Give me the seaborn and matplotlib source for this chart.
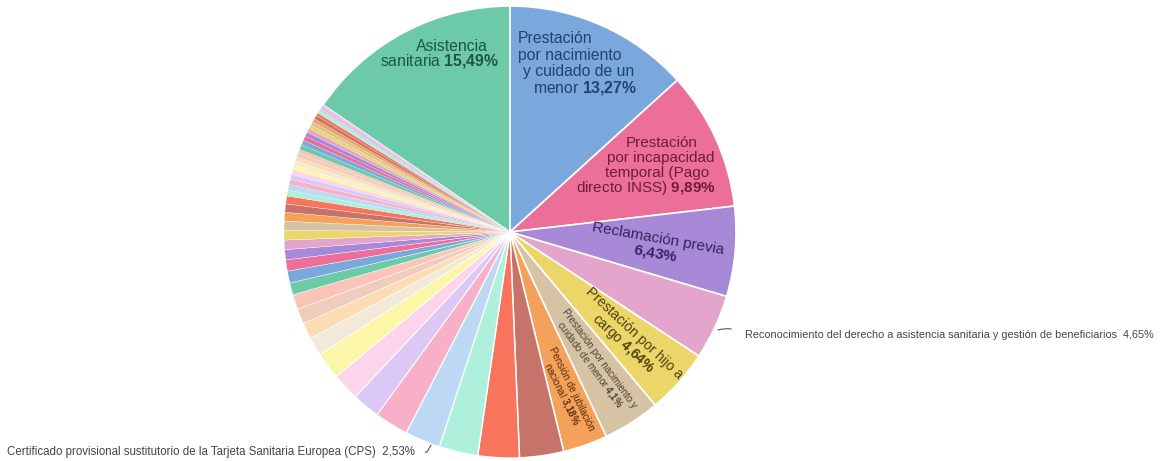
import matplotlib
matplotlib.use("Agg")
import matplotlib.pyplot as plt
import seaborn as sns

# Datos: porcentajes de trámites, en el orden del gráfico (sentido horario desde arriba)
tramites = [
    "Asistencia sanitaria",
    "Prestación por nacimiento y cuidado de un menor",
    "Prestación por incapacidad temporal (Pago directo INSS)",
    "Reclamación previa",
    "Reconocimiento del derecho a asistencia sanitaria y gestión de beneficiarios",
    "Prestación por hijo a cargo",
    "Prestación por nacimiento y cuidado de menor",
    "Pensión de jubilación nacional",
]
porcentajes = [15.49, 13.27, 9.89, 6.43, 4.65, 4.64, 4.10, 3.18]

# resto de trámites pequeños (sin etiqueta visible)
otros_nombres = ["", "", "", "Certificado provisional sustitutorio de la Tarjeta Sanitaria Europea (CPS)"] + [""] * 42
otros_porcentajes = [3.15, 2.95, 2.78, 2.53, 2.42, 1.98, 1.96, 1.94, 1.32, 1.16, 1.08, 1.06,
                     0.86, 0.85, 0.80, 0.72, 0.68, 0.68, 0.66, 0.62, 0.60, 0.56,
                     0.42, 0.40, 0.38, 0.36, 0.34, 0.33, 0.32, 0.30, 0.28, 0.27,
                     0.36, 0.34, 0.32, 0.30, 0.29, 0.28, 0.27, 0.25, 0.24, 0.22,
                     0.20, 0.18, 0.16, 0.14]

colores_base = ["#6ccaa9", "#7aa8dc", "#ec6f99", "#a889d8", "#e4a5cc",
                "#ecd669", "#d6c3a4", "#f4a25b", "#c6746a", "#f8745c",
                "#aef0dc", "#bcd8f2", "#f8b0c8", "#dcc8f4", "#fcd4ec",
                "#fcf6a8", "#f2ead8", "#fcdcb4", "#f0ccbc", "#fcc4b8"]

nombres = tramites + otros_nombres
valores = porcentajes + otros_porcentajes
colores = [colores_base[i % len(colores_base)] for i in range(len(valores))]

sns.set_theme(style="white")
plt.rcParams['font.family'] = ['Liberation Sans', 'DejaVu Sans']
plt.rcParams['mathtext.fontset'] = 'custom'
plt.rcParams['mathtext.rm'] = 'Liberation Sans'
plt.rcParams['mathtext.bf'] = 'Liberation Sans:bold'

W, H = 1164, 461
CX, CY, R = 510, 232, 226

fig = plt.figure(figsize=(W / 100, H / 100), dpi=100)
ax = fig.add_axes([(CX - R) / W, (H - CY - R) / H, 2 * R / W, 2 * R / H])

total = sum(valores)
cuñas, _ = ax.pie(valores, colors=colores, radius=1, counterclock=False,
                  startangle=90 + 360 * valores[0] / total,
                  wedgeprops=dict(edgecolor="white", linewidth=1.2))
# bordes finos en los sectores pequeños para que no tapen el centro
for cuña, v in zip(cuñas, valores):
    cuña.set_linewidth(min(1.2, 0.35 * v))
ax.set_xlim(-1, 1)
ax.set_ylim(-1, 1)
ax.set_aspect("equal")
ax.axis("off")


def px(x, y):
    # pixel de la imagen -> coordenadas del eje
    return (x - CX) / R, (CY - y) / R


def linea(x, y, s, color, size=11, rot=0, **kw):
    ax.text(*px(x, y), s, color=color, fontsize=size, rotation=rot,
            ha="center", va="center", rotation_mode="anchor", **kw)


# etiquetas dentro de los sectores
linea(452, 46, "Asistencia", "#1d5546", size=11.3)
linea(439, 61, "sanitaria $\\mathbf{15{,}49\\%}$", "#1d5546", size=11.3)

linea(555, 38, "Prestación", "#22436a", size=11.3)
linea(570, 55, "por nacimiento", "#22436a", size=11.3)
linea(579, 71, "y cuidado de un", "#22436a", size=11.3)
linea(585, 88, "menor $\\mathbf{13{,}27\\%}$", "#22436a", size=11.3)

linea(662, 143, "Prestación", "#6e1d38")
linea(661, 158, "por incapacidad", "#6e1d38")
linea(657, 173, "temporal (Pago", "#6e1d38")
linea(646, 188, "directo INSS) $\\mathbf{9{,}89\\%}$", "#6e1d38")

linea(657, 247, "Reclamación previa\n$\\mathbf{6{,}43\\%}$", "#36245c", rot=-10,
      multialignment="center", linespacing=1.0)
linea(628, 339, "Prestación por hijo a\ncargo $\\mathbf{4{,}64\\%}$", "#4d420c", size=10,
      rot=-43, multialignment="center", linespacing=1.0)
linea(594, 362, "Prestación por nacimiento y\ncuidado de menor $\\mathbf{4{,}1\\%}$", "#4a4236",
      size=7, rot=-54, multialignment="center", linespacing=1.0)
linea(566, 392, "Pensión de jubilación\nnacional $\\mathbf{3{,}18\\%}$", "#5a2c08",
      size=7, rot=-64, multialignment="center", linespacing=1.0)

# etiquetas externas con línea guía
ax.annotate(nombres[4] + "  4,65%", xy=px(718, 330), xytext=px(745, 335),
            fontsize=7.85, color="#444444", ha="left", va="center",
            arrowprops=dict(arrowstyle="-", color="#555555", lw=0.8, relpos=(0, 0.5),
                            connectionstyle="arc3,rad=0.25", shrinkA=8, shrinkB=0))
ax.annotate(nombres[11] + "  2,53%", xy=px(431, 445), xytext=px(415, 452),
            fontsize=8.3, color="#444444", ha="right", va="center",
            arrowprops=dict(arrowstyle="-", color="#555555", lw=0.8, relpos=(1, 0.5),
                            connectionstyle="angle,angleA=0,angleB=60,rad=0",
                            shrinkA=5, shrinkB=0))

fig.savefig("out.png", dpi=100, facecolor="white")
